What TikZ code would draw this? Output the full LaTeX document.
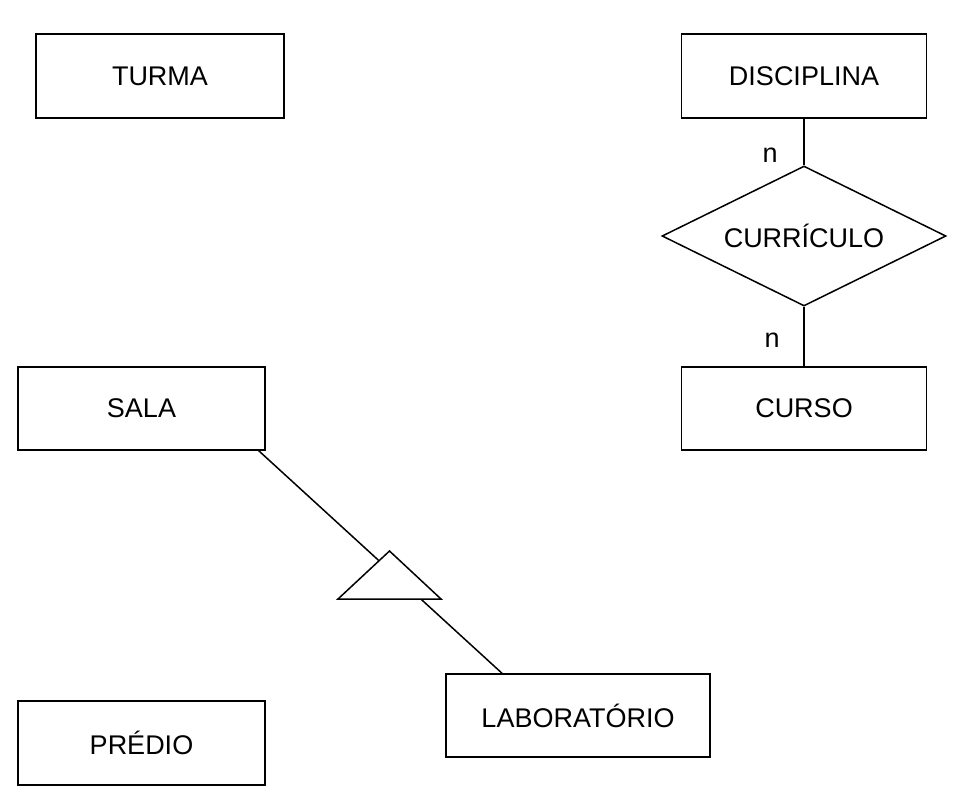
\documentclass[tikz,border=0pt]{standalone}
\usepackage{fontspec}
\setmainfont{Liberation Sans}
\usetikzlibrary{shapes.geometric}

\tikzset{
  entidade/.style={draw, line width=1.5pt, inner sep=0pt, font=\fontsize{27}{30}\selectfont},
  relacao/.style={draw, diamond, aspect=2.03, line width=1.5pt, inner sep=0pt, minimum width=284pt, minimum height=140pt, font=\fontsize{27}{30}\selectfont},
  card/.style={inner sep=0pt, font=\fontsize{27}{30}\selectfont},
}

\begin{document}
\begin{tikzpicture}[x=1pt,y=1pt,yscale=-1,xscale=1]
\useasboundingbox (0,0) rectangle (957,809);

%Shape: Rectangle [TURMA]
\node [entidade, minimum width=248pt, minimum height=84pt] (turma) at (160,76) {TURMA};
%Shape: Rectangle [DISCIPLINA]
\node [entidade, minimum width=245pt, minimum height=84pt] (disciplina) at (804,76) {DISCIPLINA};
%Shape: Diamond [CURRICULO]
\node [relacao] (curriculo) at (804,236) {CURRÍCULO};
%Shape: Rectangle [CURSO]
\node [entidade, minimum width=245pt, minimum height=83pt] (curso) at (804,408.5) {CURSO};
%Shape: Rectangle [SALA]
\node [entidade, minimum width=247pt, minimum height=83pt] (sala) at (141.5,408.5) {SALA};
%Shape: Rectangle [PREDIO]
\node [entidade, minimum width=247pt, minimum height=84pt] (predio) at (141.5,743) {PRÉDIO};
%Shape: Rectangle [LABORATORIO]
\node [entidade, minimum width=264pt, minimum height=83pt] (laboratorio) at (578,715.5) {LABORATÓRIO};

%Straight Lines
\draw [line width=1.5pt] (disciplina.south) -- (curriculo.north);
\draw [line width=1.5pt] (curriculo.south) -- (curso.north);
\draw [line width=1.5pt] ([xshift=-7pt]sala.south east) -- ([xshift=-76pt]laboratorio.north);

%Shape: Triangle [especializacao]
\coordinate (isa) at (389.5,551);
\draw [line width=1.5pt, fill=white] (isa) -- ++(-51.5,48) -- ++(103,0) -- cycle;

% Text Node
\node [card] (ndisc) at (770,155) {n};
% Text Node
\node [card] (ncurso) at (772,340) {n};

\end{tikzpicture}
\end{document}
